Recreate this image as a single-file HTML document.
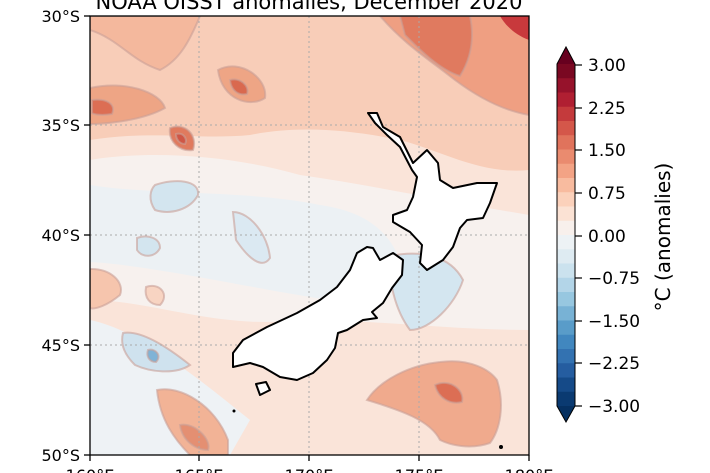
<!DOCTYPE html><html><head><style>
body{margin:0;background:#fff;width:710px;height:473px;overflow:hidden;font-family:"DejaVu Sans","Liberation Sans",sans-serif;}
svg{position:absolute;left:0;top:0}
</style></head><body>
<svg width="710" height="473" viewBox="0 0 710 473" xmlns="http://www.w3.org/2000/svg">
<defs>
<clipPath id="mp"><rect x="90" y="16" width="439" height="439"/></clipPath>
</defs>
<text x="309" y="9" font-size="21" text-anchor="middle" fill="#000">NOAA OISST anomalies, December 2020</text>
<g clip-path="url(#mp)">
<rect x="90" y="16" width="439" height="439" fill="#fae4d9"/>
<g stroke="#c9a098" stroke-width="2" stroke-opacity="0.6">
<!-- warm upper band -->
<path d="M90 16 L529 16 L529 170 C480 175 440 150 400 140 C350 130 300 125 250 135 C200 140 150 130 90 140Z" fill="#f8cdb8" stroke="none"/>
<path d="M90 30 C120 40 130 60 160 70 C180 60 190 40 200 16 L90 16Z" fill="#f4b89d"/>
<!-- neutral / cool middle -->
<path d="M90 160 C150 150 230 155 300 175 C370 185 440 200 529 215 L529 330 C450 330 380 320 300 320 C220 330 150 300 90 300Z" fill="#f7f1ee" stroke="none"/>
<path d="M90 185 C150 195 250 190 320 205 C370 212 390 235 400 260 L330 300 C260 290 150 265 90 262Z" fill="#ecf1f4" stroke="none"/>
<path d="M90 320 C140 330 200 380 250 420 L230 455 L90 455Z" fill="#eef2f5" stroke="none"/>
<!-- blue blobs -->
<path d="M155 185 C175 178 200 180 198 195 C190 210 170 215 155 210 C148 200 150 190 155 185Z" fill="#d3e5ef"/>
<path d="M137 238 C148 234 160 238 160 248 C155 258 142 258 137 250Z" fill="#d3e5ef"/>
<path d="M233 212 C250 212 268 235 270 258 C262 270 248 258 236 240Z" fill="#dbe9f2"/>
<path d="M123 333 C140 330 165 345 190 365 C175 375 150 372 135 365 C125 355 120 345 123 333Z" fill="#cfe2ee"/>
<path d="M148 350 C156 348 162 356 156 362 C149 362 146 356 148 350Z" fill="#7fb3d6"/>
<path d="M390 256 C420 250 450 255 463 280 C455 305 430 330 410 330 C395 310 388 280 390 256Z" fill="#d4e6f0"/>
<!-- warm blobs -->
<path d="M380 16 L529 16 L529 115 C500 110 475 95 455 80 C430 60 405 45 380 16Z" fill="#ef9f82"/>
<path d="M400 16 L470 16 C475 40 470 60 460 76 C440 70 420 50 405 35Z" fill="#e07a5f"/>
<path d="M500 16 L529 16 L529 40 C515 35 505 25 500 16Z" fill="#c8393c" stroke="none"/>
<path d="M218 70 C240 58 268 78 265 98 C250 108 222 100 218 70Z" fill="#eea585"/>
<path d="M230 80 C240 77 250 86 247 94 C238 96 231 90 230 80Z" fill="#d9694f"/>
<path d="M90 88 C125 80 160 92 165 108 C140 122 100 124 90 124Z" fill="#eea585"/>
<path d="M92 100 C108 98 116 105 112 114 C100 116 93 114 92 113Z" fill="#dc6e54"/>
<path d="M170 128 C185 122 198 135 193 150 C180 152 168 142 170 128Z" fill="#e07a5e"/>
<path d="M176 134 C184 132 188 140 185 144 C180 144 176 140 176 134Z" fill="#cf5645"/>
<path d="M90 269 C110 268 125 282 120 295 C108 305 95 310 90 308Z" fill="#f6c5ad"/>
<path d="M146 287 C160 282 170 295 160 305 C150 305 144 298 146 287Z" fill="#f8d4c2"/>
<path d="M367 400 C380 380 410 365 440 362 C470 358 490 370 497 380 C505 405 500 430 490 443 C470 450 450 445 440 440 C430 420 400 410 367 400Z" fill="#f0aa8d"/>
<path d="M435 385 C450 378 465 390 462 402 C450 405 438 398 435 385Z" fill="#dc6e54"/>
<path d="M157 390 C180 385 215 405 228 440 L228 455 L190 455 C175 440 160 420 157 390Z" fill="#f2b396"/>
<path d="M180 425 C195 422 212 440 208 450 C195 450 182 440 180 425Z" fill="#e48f72"/>
<path d="M285 345 C300 345 302 370 292 378 C282 370 280 355 285 345Z" fill="#f6c6ae"/>
</g>
<!-- grid -->
<g stroke="#aaa" stroke-width="1" stroke-dasharray="2,3">
<line x1="199" y1="16" x2="199" y2="455"/><line x1="309" y1="16" x2="309" y2="455"/><line x1="419" y1="16" x2="419" y2="455"/>
<line x1="90" y1="125" x2="529" y2="125"/><line x1="90" y1="235" x2="529" y2="235"/><line x1="90" y1="345" x2="529" y2="345"/>
</g>
<!-- NZ -->
<g fill="#fff" stroke="#000" stroke-width="2" stroke-linejoin="round">
<path d="M368 113 L377 113 L383 127 L400 137 L413 163 L427 150 L438 163 L440 180 L453 188 L477 183 L497 183 L490 203 L483 218 L467 220 L460 228 L453 247 L443 260 L427 270 L420 263 L422 245 L410 232 L393 222 L393 215 L407 210 L413 197 L417 177 L412 170 L400 147 L387 135 L375 123Z"/>
<path d="M367 247 L373 248 L380 260 L393 253 L403 260 L402 275 L392 288 L383 303 L372 312 L377 318 L363 320 L347 330 L338 333 L335 348 L327 360 L313 373 L297 380 L280 377 L263 367 L250 363 L233 367 L233 353 L243 340 L267 327 L297 313 L320 300 L337 287 L350 270 L357 253Z"/>
<path d="M256 384 L266 382 L270 390 L260 395Z"/>
</g>
<circle cx="234" cy="411" r="1.5" fill="#000"/><circle cx="501" cy="447" r="2" fill="#000"/>
</g>
<rect x="90" y="16" width="439" height="439" fill="none" stroke="#000" stroke-width="1.3"/>
<g stroke="#000" stroke-width="1.3">
<line x1="84" y1="16" x2="90" y2="16"/><line x1="84" y1="125" x2="90" y2="125"/><line x1="84" y1="235" x2="90" y2="235"/><line x1="84" y1="345" x2="90" y2="345"/><line x1="84" y1="455" x2="90" y2="455"/>
<line x1="90" y1="455" x2="90" y2="461"/><line x1="199" y1="455" x2="199" y2="461"/><line x1="309" y1="455" x2="309" y2="461"/><line x1="419" y1="455" x2="419" y2="461"/><line x1="529" y1="455" x2="529" y2="461"/>
</g>
<g font-size="16" text-anchor="end" fill="#000">
<text x="80" y="22">30°S</text><text x="80" y="131">35°S</text><text x="80" y="241">40°S</text><text x="80" y="351">45°S</text><text x="80" y="461">50°S</text>
</g>
<g font-size="16" text-anchor="middle" fill="#000">
<text x="90" y="481">160°E</text><text x="199" y="481">165°E</text><text x="309" y="481">170°E</text><text x="419" y="481">175°E</text><text x="529" y="481">180°E</text>
</g>
<!-- colorbar -->
<path d="M557 64 L566 47 L575 64Z" fill="#67001f"/>
<g>
<rect x="557" y="64.0" width="18" height="14.5" fill="#7a0822"/>
<rect x="557" y="78.25" width="18" height="14.5" fill="#96122b"/>
<rect x="557" y="92.5" width="18" height="14.5" fill="#b01f32"/>
<rect x="557" y="106.75" width="18" height="14.5" fill="#c43a3c"/>
<rect x="557" y="121.0" width="18" height="14.5" fill="#d4574a"/>
<rect x="557" y="135.25" width="18" height="14.5" fill="#e0735c"/>
<rect x="557" y="149.5" width="18" height="14.5" fill="#ea8b6f"/>
<rect x="557" y="163.75" width="18" height="14.5" fill="#f3a385"/>
<rect x="557" y="178.0" width="18" height="14.5" fill="#f8bb9f"/>
<rect x="557" y="192.25" width="18" height="14.5" fill="#fbd1bb"/>
<rect x="557" y="206.5" width="18" height="14.5" fill="#fbe2d4"/>
<rect x="557" y="220.75" width="18" height="14.5" fill="#f8f0ec"/>
<rect x="557" y="235.0" width="18" height="14.5" fill="#edf2f5"/>
<rect x="557" y="249.25" width="18" height="14.5" fill="#deebf2"/>
<rect x="557" y="263.5" width="18" height="14.5" fill="#cbe2ee"/>
<rect x="557" y="277.75" width="18" height="14.5" fill="#b3d5e8"/>
<rect x="557" y="292.0" width="18" height="14.5" fill="#97c7e0"/>
<rect x="557" y="306.25" width="18" height="14.5" fill="#78b2d5"/>
<rect x="557" y="320.5" width="18" height="14.5" fill="#599cc9"/>
<rect x="557" y="334.75" width="18" height="14.5" fill="#4187bf"/>
<rect x="557" y="349.0" width="18" height="14.5" fill="#3372b1"/>
<rect x="557" y="363.25" width="18" height="14.5" fill="#255da0"/>
<rect x="557" y="377.5" width="18" height="14.5" fill="#154a88"/>
<rect x="557" y="391.75" width="18" height="14.25" fill="#0a3a71"/>
</g>
<path d="M557 406 L566 422 L575 406Z" fill="#053061"/>
<path d="M557 64 L566 47 L575 64 L575 406 L566 422 L557 406Z" fill="none" stroke="#000" stroke-width="1"/>
<g stroke="#000" stroke-width="1.2">
<line x1="575" y1="65" x2="582" y2="65"/><line x1="575" y1="108" x2="582" y2="108"/><line x1="575" y1="150" x2="582" y2="150"/><line x1="575" y1="193" x2="582" y2="193"/><line x1="575" y1="236" x2="582" y2="236"/><line x1="575" y1="278" x2="582" y2="278"/><line x1="575" y1="321" x2="582" y2="321"/><line x1="575" y1="363" x2="582" y2="363"/><line x1="575" y1="406" x2="582" y2="406"/>
</g>
<g font-size="17" fill="#000">
<text x="588" y="71">3.00</text><text x="588" y="114">2.25</text><text x="588" y="156">1.50</text><text x="588" y="199">0.75</text><text x="588" y="242">0.00</text><text x="588" y="284">−0.75</text><text x="588" y="327">−1.50</text><text x="588" y="369">−2.25</text><text x="588" y="412">−3.00</text>
</g>
<text transform="translate(670,237) rotate(-90)" font-size="20" text-anchor="middle" fill="#000">°C (anomalies)</text>
</svg>
</body></html>
